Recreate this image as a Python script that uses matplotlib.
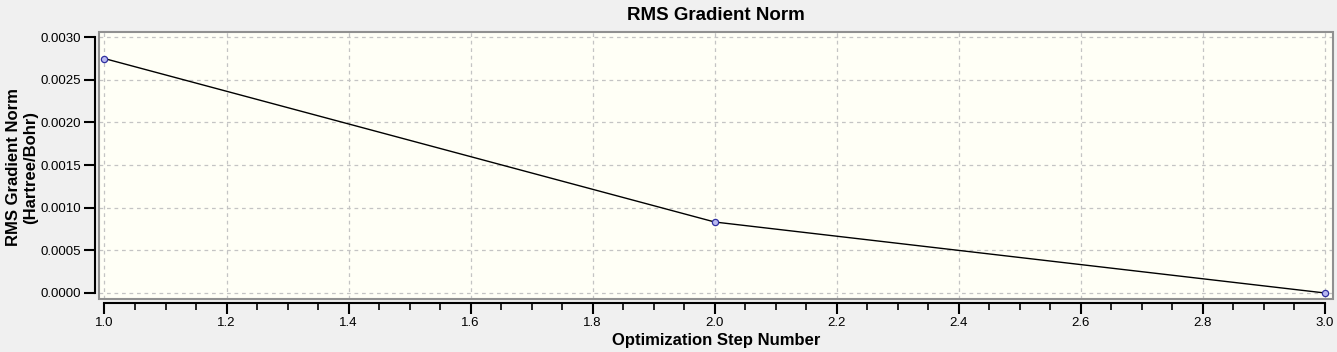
import matplotlib
matplotlib.use("Agg")
import matplotlib.pyplot as plt
from matplotlib.patches import Rectangle
from matplotlib.ticker import MultipleLocator, FormatStrFormatter

plt.rcParams['font.family'] = ['Liberation Sans', 'DejaVu Sans']

steps = [1, 2, 3]
rms_grad = [0.002748, 0.000832, 0.0]

title = "RMS Gradient Norm"
xlabel = "Optimization Step Number"
ylabel = "RMS Gradient Norm\n(Hartree/Bohr)"

fig = plt.figure(figsize=(13.37, 3.52), dpi=100, facecolor='#f0f0f0')
ax = fig.add_axes([0.0744, 0.1506, 0.9226, 0.7584])
ax.set_facecolor('#fffff6')

ax.plot(steps, rms_grad, color='black', lw=1.0, marker='o', ms=4.5,
        mfc='#b8b8f0', mec='#3030a0', mew=0.9, zorder=3)

ax.set_xlim(0.9918, 3.0131)
ax.set_ylim(-0.0000703, 0.003059)

ax.xaxis.set_major_locator(MultipleLocator(0.2))
ax.xaxis.set_minor_locator(MultipleLocator(0.05))
ax.xaxis.set_major_formatter(FormatStrFormatter('%.1f'))
ax.yaxis.set_major_locator(MultipleLocator(0.0005))
ax.yaxis.set_major_formatter(FormatStrFormatter('%.4f'))

ax.grid(True, which='major', color='#c4c4c4', linestyle=(0, (3, 3)), lw=0.9)

for s in ['top', 'right']:
    ax.spines[s].set_visible(False)
ax.spines['left'].set_position(('outward', 3))
ax.spines['bottom'].set_position(('outward', 3))
ax.spines['left'].set_bounds(0.0, 0.003)
ax.spines['bottom'].set_bounds(1.0, 3.0)
ax.spines['left'].set_linewidth(1.5)
ax.spines['bottom'].set_linewidth(1.5)

ax.add_patch(Rectangle((0, 0), 1, 1, transform=ax.transAxes, fill=False,
                       edgecolor='#909090', lw=1.5, clip_on=False, zorder=4))

ax.tick_params(axis='both', which='major', length=8, width=1.5, labelsize=9.5, colors='black')
ax.tick_params(axis='x', which='minor', length=5, width=1.2)
ax.tick_params(axis='x', pad=2)
ax.tick_params(axis='y', pad=2)

cx = 0.0744 + 0.9226 / 2
fig.text(cx, 0.955, title, ha='center', va='center', fontsize=13.5, fontweight='bold')
fig.text(cx, 0.033, xlabel, ha='center', va='center', fontsize=12, fontweight='bold')
fig.text(0.0165, 0.525, ylabel, ha='center', va='center', rotation=90,
         fontsize=12, fontweight='bold', linespacing=1.2)

fig.savefig('out.png', dpi=100, facecolor=fig.get_facecolor())
